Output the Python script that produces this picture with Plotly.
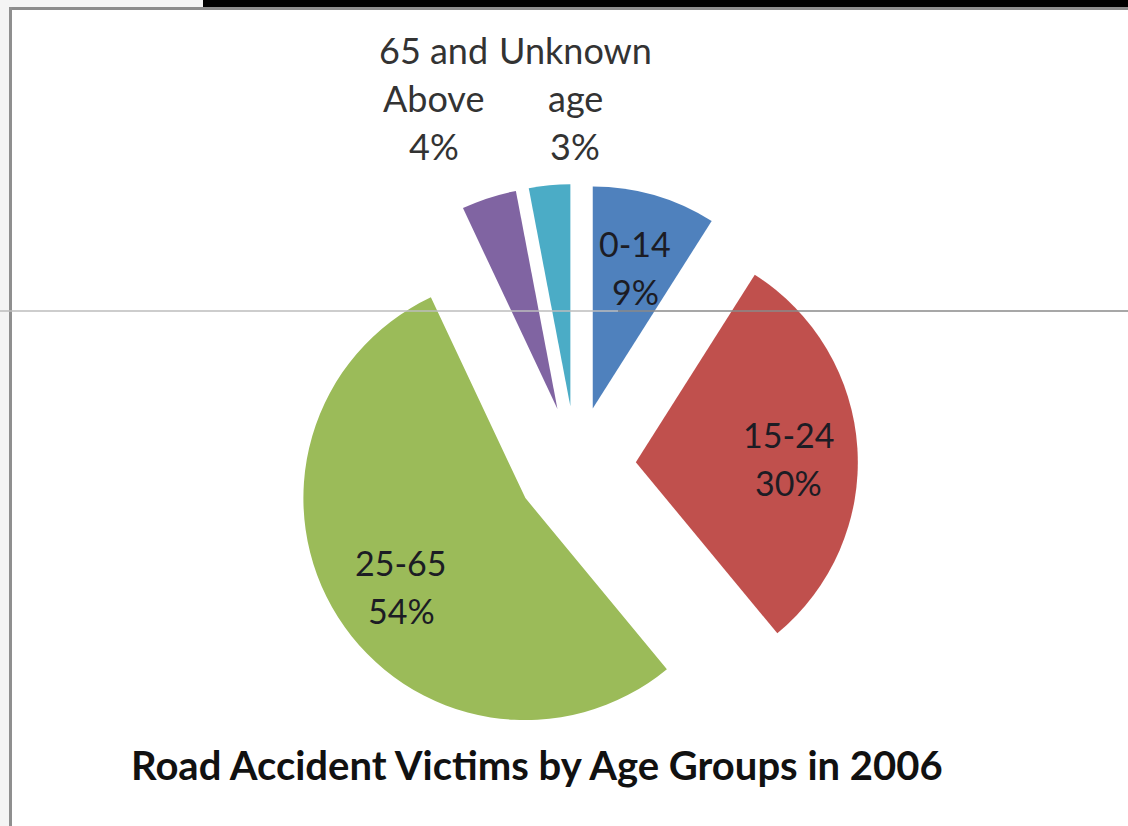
import math
import plotly.graph_objects as go

# ---- data ----
categories = ["0-14", "15-24", "25-65", "65 and Above", "Unknown age"]
label_lines = [["0-14"], ["15-24"], ["25-65"], ["65 and", "Above"], ["Unknown", "age"]]
values = [9, 30, 54, 4, 3]
colors = ["#4F81BD", "#C0504D", "#9BBB59", "#8064A2", "#4BACC6"]
inside = [True, True, True, False, False]
title_text = "Road Accident Victims by Age Groups in 2006"

# ---- layout constants (pixels) ----
W, H = 1128, 826
CX, CY = 576, 466
R = 222
PULL = 0.27
HALF = R * (1 + PULL)
LABEL_K = 0.69
LABEL_DY = 6
LINE_GAP = 48
OUT_POS = {3: (434, 50), 4: (575, 50)}  # centre of first line for outside labels
FONT = "Lato"


def px(x):
    return x / W


def py(y):
    return 1 - y / H


fig = go.Figure(
    go.Pie(
        labels=categories,
        values=values,
        marker=dict(colors=colors, line=dict(width=0)),
        pull=[PULL] * len(values),
        sort=False,
        direction="clockwise",
        rotation=0,
        textinfo="none",
        showlegend=False,
        domain=dict(x=[px(CX - HALF), px(CX + HALF)], y=[py(CY + HALF), py(CY - HALF)]),
    )
)

total = sum(values)
annotations = []
cum = 0
for i, v in enumerate(values):
    mid = (cum + v / 2) / total * 2 * math.pi
    cum += v
    lines = label_lines[i] + [f"{round(v / total * 100)}%"]
    if inside[i]:
        ux, uy = math.sin(mid), -math.cos(mid)
        ax = CX + PULL * R * ux + LABEL_K * R * ux + (5 if ux < 0 else 0)
        ay = CY + PULL * R * uy + LABEL_K * R * uy + LABEL_DY
        y0 = ay - (len(lines) - 1) * LINE_GAP / 2
        color = "#1c1c24"
        size = 34
    else:
        ax, y0 = OUT_POS[i]
        color = "#333333"
        size = 36
    for j, t in enumerate(lines):
        annotations.append(dict(
            x=px(ax), y=py(y0 + j * LINE_GAP), xref="paper", yref="paper",
            text=t, showarrow=False, xanchor="center", yanchor="middle",
            font=dict(family=FONT, size=size, color=color),
        ))

annotations.append(dict(
    x=px(537), y=py(765), xref="paper", yref="paper", text="<b>" + title_text + "</b>",
    showarrow=False, xanchor="center", yanchor="middle",
    font=dict(family=FONT, size=40, color="#111111"),
))


def rect(x0, y0, x1, y1, color):
    return dict(type="rect", xref="paper", yref="paper", x0=px(x0), x1=px(x1),
                y0=py(y1), y1=py(y0), fillcolor=color, line=dict(width=0), layer="above")


shapes = [
    rect(0, 0, W, 7, "#f4f4f4"),
    rect(203, 0, W, 7, "#000000"),
    rect(0, 0, 9, H, "#f4f4f4"),
    rect(9, 7, W, 10, "#8c8c8c"),
    rect(9, 7, 12, H, "#8f8f8f"),
    dict(type="line", xref="paper", yref="paper", x0=0, x1=px(618), y0=py(311), y1=py(311),
         line=dict(color="#bdbdbd", width=1.5), layer="above"),
    dict(type="line", xref="paper", yref="paper", x0=px(618), x1=1, y0=py(311), y1=py(311),
         line=dict(color="#8a8a8a", width=1.5), layer="above"),
]

fig.update_layout(
    width=W, height=H,
    margin=dict(l=0, r=0, t=0, b=0),
    paper_bgcolor="#ffffff",
    plot_bgcolor="#ffffff",
    annotations=annotations,
    shapes=shapes,
)

fig.write_html(
    "out.html",
    config={"displayModeBar": False},
    post_script="document.body.style.margin='0';document.body.style.padding='0';",
)
